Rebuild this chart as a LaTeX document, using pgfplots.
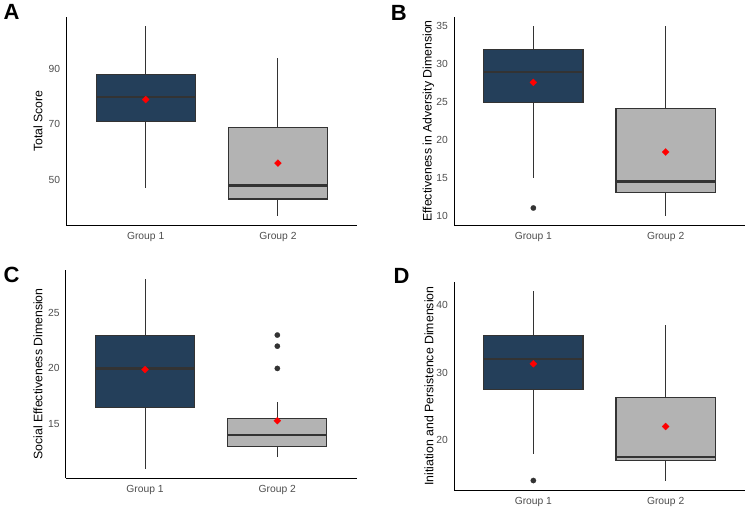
\documentclass[border=0pt]{standalone}
\usepackage{fontspec}
\setmainfont{Liberation Sans}
\usepackage{pgfplots}
\pgfplotsset{compat=1.18}
\usepgfplotslibrary{statistics}
\definecolor{navy}{HTML}{243F5A}
\definecolor{boxgrey}{HTML}{B3B3B3}
\definecolor{edge}{HTML}{333333}
\definecolor{ticktext}{HTML}{4D4D4D}

\pgfplotsset{
  panel/.style={
    scale only axis, width=291pt, height=208pt,
    anchor=south west,
    boxplot/draw direction=y,
    boxplot/every median/.style={line width=2.6pt},
    boxplot/every whisker/.style={line width=1pt},
    boxplot/every box/.style={line width=1.1pt},
    xmin=0.4, xmax=2.6, xtick={1,2}, xticklabels={Group 1, Group 2},
    axis x line*=bottom, axis y line*=left,
    axis line style={-, black, line width=0.8pt},
    major tick length=0pt, minor tick num=0,
    tick style={draw=none},
    tick label style={font=\fontsize{10.3}{12}\selectfont, text=ticktext},
    /pgf/number format/assume math mode=true,
    xticklabel style={inner sep=0pt, anchor=north, yshift=-7pt},
    yticklabel style={inner sep=0pt, anchor=east, xshift=-6pt},
    ylabel style={font=\fontsize{12.3}{14}\selectfont, anchor=center},
  },
  g1/.style={draw=edge, fill=navy, line width=1pt,
    mark=*, mark size=2.7pt, mark options={draw=edge, fill=edge, line width=0.2pt}},
  g2/.style={draw=edge, fill=boxgrey, line width=1pt,
    mark=*, mark size=2.7pt, mark options={draw=edge, fill=edge, line width=0.2pt}},
  meanpt/.style={only marks, mark=square*, mark size=2.5pt, color=red,
    mark options={draw=red, fill=red, rotate=45, line width=0.2pt}},
}

\begin{document}
\begin{tikzpicture}
\useasboundingbox (0,0) rectangle (748pt,508pt);

% ---------------- A ----------------
\begin{axis}[panel, at={(66.3pt,283pt)}, ymin=33.6, ymax=108.9, ytick={50,70,90},
  ylabel={Total Score}, ylabel style={at={(axis description cs:-0.097,0.5)}}]
\addplot[g1, boxplot prepared={draw position=1, lower whisker=47, lower quartile=71,
  median=80, upper quartile=88, upper whisker=105.5, box extend=0.75, whisker extend=0}] coordinates {};
\addplot[g2, boxplot prepared={draw position=2, lower whisker=37, lower quartile=43,
  median=48, upper quartile=69, upper whisker=94, box extend=0.75, whisker extend=0}] coordinates {};
\addplot[meanpt] coordinates {(1,79) (2,56)};
\end{axis}

% ---------------- B ----------------
\begin{axis}[panel, at={(454pt,283pt)}, ymin=8.75, ymax=36.25, ytick={10,15,20,25,30,35},
  ylabel={Effectiveness in Adversity Dimension}, ylabel style={at={(axis description cs:-0.088,0.5)}}]
\addplot[g1, boxplot prepared={draw position=1, lower whisker=15, lower quartile=25,
  median=29, upper quartile=32, upper whisker=35, box extend=0.75, whisker extend=0}] coordinates {(1,11)};
\addplot[g2, boxplot prepared={draw position=2, lower whisker=10, lower quartile=13,
  median=14.5, upper quartile=24.2, upper whisker=35, box extend=0.75, whisker extend=0}] coordinates {};
\addplot[meanpt] coordinates {(1,27.6) (2,18.4)};
\end{axis}

% ---------------- C ----------------
\begin{axis}[panel, at={(65.7pt,30pt)}, ymin=10.15, ymax=28.85, ytick={15,20,25},
  ylabel={Social Effectiveness Dimension}, ylabel style={at={(axis description cs:-0.095,0.5)}}]
\addplot[g1, boxplot prepared={draw position=1, lower whisker=11, lower quartile=16.5,
  median=20, upper quartile=23, upper whisker=28, box extend=0.75, whisker extend=0}] coordinates {};
\addplot[g2, boxplot prepared={draw position=2, lower whisker=12, lower quartile=13,
  median=14, upper quartile=15.5, upper whisker=17, box extend=0.75, whisker extend=0}] coordinates {(2,20) (2,22) (2,23)};
\addplot[meanpt] coordinates {(1,19.9) (2,15.3)};
\end{axis}

% ---------------- D ----------------
\begin{axis}[panel, at={(454pt,18pt)}, ymin=12.6, ymax=43.4, ytick={20,30,40},
  ylabel={Initiation and Persistence Dimension}, ylabel style={at={(axis description cs:-0.086,0.5)}}]
\addplot[g1, boxplot prepared={draw position=1, lower whisker=18, lower quartile=27.5,
  median=32, upper quartile=35.5, upper whisker=42, box extend=0.75, whisker extend=0}] coordinates {(1,14)};
\addplot[g2, boxplot prepared={draw position=2, lower whisker=14, lower quartile=17,
  median=17.5, upper quartile=26.3, upper whisker=37, box extend=0.75, whisker extend=0}] coordinates {};
\addplot[meanpt] coordinates {(1,31.3) (2,22)};
\end{axis}

% panel letters
\node[anchor=north west, inner sep=0pt, font=\fontsize{22}{22}\selectfont\bfseries] at (3.3pt,504pt) {A};
\node[anchor=north west, inner sep=0pt, font=\fontsize{22}{22}\selectfont\bfseries] at (390.7pt,503pt) {B};
\node[anchor=north west, inner sep=0pt, font=\fontsize{22}{22}\selectfont\bfseries] at (3.3pt,241.3pt) {C};
\node[anchor=north west, inner sep=0pt, font=\fontsize{22}{22}\selectfont\bfseries] at (393.3pt,239.7pt) {D};
\end{tikzpicture}
\end{document}
